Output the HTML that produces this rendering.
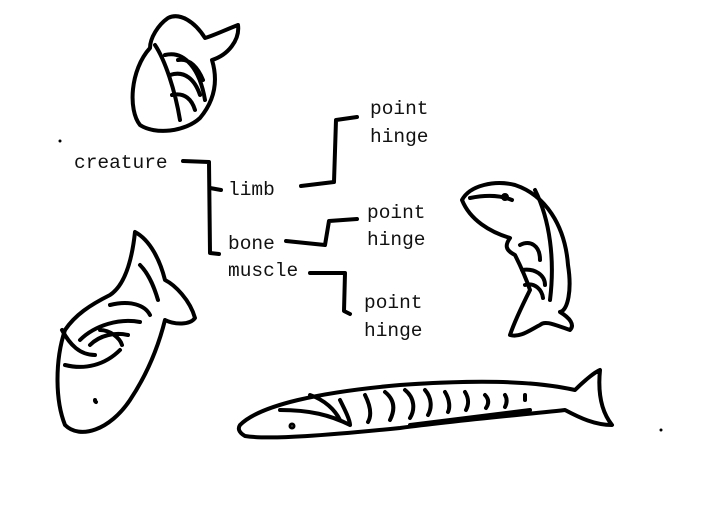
<!DOCTYPE html>
<html><head><meta charset="utf-8"><style>
html,body{margin:0;padding:0;background:#fff;}
svg{display:block}
text{font-family:"Liberation Mono",monospace;font-size:19.5px;fill:#111}
</style></head><body>
<svg width="717" height="525" viewBox="0 0 717 525" xmlns="http://www.w3.org/2000/svg">
<g fill="none" stroke="#000" stroke-width="4" stroke-linecap="round" stroke-linejoin="round">
<polyline points="183,161 209,162 210,253 219,254"/>
<polyline points="210,188 221,190"/>
<polyline points="301,186 334,182 336,120 357,117"/>
<polyline points="286,241 325,245 329,221 357,219"/>
<polyline points="310,273 345,273 344,311 350,314"/>
<path d="M150,48 C130,70 128,110 140,125 C155,135 185,132 200,118 C215,100 218,80 212,60 C228,55 240,40 238,25 C225,30 215,35 205,38 C195,22 180,12 168,18 C158,25 150,38 150,48 Z"/>
<path d="M155,45 C165,60 175,90 180,120 M165,55 C185,50 200,70 205,100 M170,75 C185,70 195,80 200,95 M172,95 C185,92 192,100 195,110 M178,60 C190,58 198,68 203,80"/>
<path d="M65,330 C55,360 55,400 65,425 C80,440 110,430 130,400 C150,370 160,340 165,320 C175,325 190,325 195,318 C190,300 175,285 165,280 C160,260 150,240 135,232 C132,260 125,285 110,295 C90,305 75,315 65,330 Z"/>
<path d="M62,330 C70,345 80,355 95,355 M65,365 C85,370 105,365 120,350 M80,340 C95,325 120,318 140,322 M90,345 C100,335 115,332 128,335 M110,305 C130,300 145,305 150,315 M140,265 C150,275 155,290 158,300 M100,330 C110,330 120,338 122,345 M95,400 A2,2 0 0 0 96,402"/>
<path d="M462,200 C470,185 495,180 515,185 C545,195 565,225 568,265 C572,290 568,310 560,312 C570,318 575,325 570,330 C555,325 545,320 540,325 C530,330 520,338 510,335 C515,320 525,300 530,290 C525,275 520,265 515,255 C505,250 505,245 510,238 C490,232 470,220 462,200 Z"/>
<path d="M470,198 C485,195 500,195 512,200 M535,190 C550,220 555,260 550,300 M520,245 C530,240 540,245 540,260 M522,270 C535,268 545,275 545,285 M525,285 C535,282 542,290 543,298"/>
<circle cx="505" cy="197" r="2"/>
<path d="M240,425 C260,405 320,392 400,385 C470,380 530,380 575,390 C585,380 595,372 600,370 C598,390 600,410 612,425 C595,425 580,418 565,410 C520,415 460,420 400,428 C330,435 270,440 245,436 C238,432 238,428 240,425 Z"/>
<path d="M310,395 C325,400 335,410 340,420 M340,400 C345,410 350,420 350,425 M365,395 C370,405 372,415 368,422 M385,392 C395,400 395,410 390,420 M405,390 C415,398 415,410 410,418 M425,390 C432,398 432,408 428,415 M445,392 C450,400 450,408 448,412 M465,392 C470,400 468,406 466,410 M485,395 C490,400 488,405 486,408 M505,395 C508,400 506,405 505,407 M525,395 L525,400 M280,410 C310,410 330,415 350,425 M410,425 C450,420 490,415 530,410"/>
<circle cx="292" cy="426" r="1.5"/>
</g>
<circle cx="60" cy="141" r="1.5" fill="#000"/>
<circle cx="661" cy="430" r="1.5" fill="#000"/>
<text x="74" y="168">creature</text>
<text x="228" y="195">limb</text>
<text x="228" y="249">bone</text>
<text x="228" y="276">muscle</text>
<text x="370" y="114">point</text>
<text x="370" y="142">hinge</text>
<text x="367" y="218">point</text>
<text x="367" y="245">hinge</text>
<text x="364" y="308">point</text>
<text x="364" y="336">hinge</text>
</svg>
</body></html>
